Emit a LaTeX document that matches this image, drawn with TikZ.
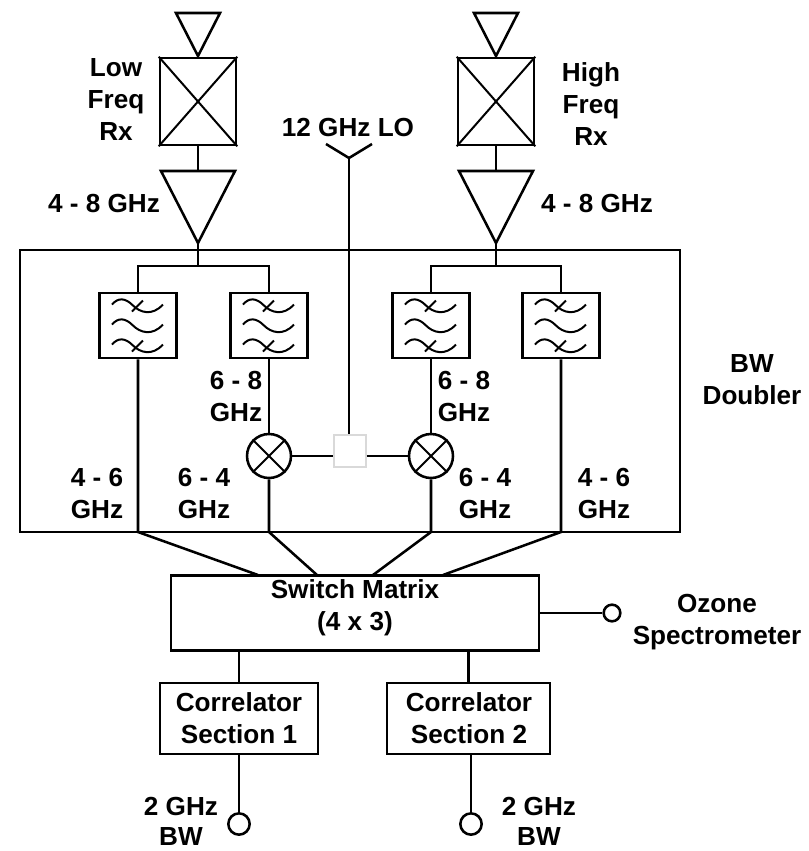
\documentclass[tikz,border=0pt]{standalone}
\usepackage{fontspec}
\setmainfont{Liberation Sans}
\usepackage{tikz}
\tikzstyle{texto}=[inner sep=0pt,align=center,font=\fontsize{19.6}{24}\selectfont\bfseries]
\tikzstyle{caja}=[draw,inner sep=0pt,fill=white]
\tikzstyle{feed}=[caja,minimum width=57pt,minimum height=65.25pt]
\tikzstyle{filtro}=[caja,minimum width=57.5pt,minimum height=48.75pt]
\tikzstyle{mezcla}=[caja,circle,minimum size=33pt]
\tikzstyle{puerto}=[caja,circle,minimum size=16pt]
\tikzstyle{fino}=[line width=1.5pt]

\begin{document}
\begin{tikzpicture}[x=0.75pt,y=-0.75pt,line width=1.9pt]
    \useasboundingbox (0,0) rectangle (809,851);
    % outer box of the doubler
    \node [draw,inner sep=0pt,minimum width=495pt,minimum height=211.5pt] (doubler) at (350,391) {};
    % receivers
    \node [feed] (lowrx) at (198,101.5) {};
    \node [feed] (highrx) at (496,101.5) {};
    \draw [fino] (lowrx.north west) -- (lowrx.south east) (lowrx.north east) -- (lowrx.south west);
    \draw [fino] (highrx.north west) -- (highrx.south east) (highrx.north east) -- (highrx.south west);
    \coordinate (lowant) at (198,56);
    \coordinate (highant) at (496,56);
    \draw (176,13) -- (220,13) -- (lowant) -- cycle;
    \draw (474,13) -- (518,13) -- (highant) -- cycle;
    \coordinate (lowamp) at (198,171);
    \coordinate (highamp) at (496,171);
    \coordinate (lowtip) at (198,243);
    \coordinate (hightip) at (496,243);
    \draw (161,171) -- (235,171) -- (lowtip) -- cycle;
    \draw (459,171) -- (533,171) -- (hightip) -- cycle;
    \draw (lowrx.south) -- (lowamp);
    \draw (highrx.south) -- (highamp);
    % filters
    \node [filtro] (fa) at (138,325.5) {};
    \node [filtro] (fb) at (269,325.5) {};
    \node [filtro] (fc) at (431,325.5) {};
    \node [filtro] (fd) at (561,325.5) {};
    \foreach \f in {fa,fb,fc,fd} {
        \foreach \dy in {-21,-1,19}
            \draw [fino,shift={(\f)}] (-26,\dy) .. controls (-20,\dy-7) and (-13,\dy-7) .. (-5,\dy+1) .. controls (2,\dy+8) and (14,\dy+12) .. (25,\dy);
        \foreach \dy in {-21,19}
            \draw [fino,shift={(\f)}] (-6,\dy+7) -- (5,\dy-4);
    }
    \coordinate (lowsplit) at (198,266);
    \coordinate (highsplit) at (496,266);
    \draw (lowtip) -- (lowsplit);
    \draw (hightip) -- (highsplit);
    \draw (fa.north) |- (lowsplit) -| (fb.north);
    \draw (fc.north) |- (highsplit) -| (fd.north);
    % mixers and LO
    \node [mezcla] (mixa) at (269,456) {};
    \node [mezcla] (mixb) at (431,456) {};
    \draw [fino] (mixa.north west) -- (mixa.south east) (mixa.north east) -- (mixa.south west);
    \draw [fino] (mixb.north west) -- (mixb.south east) (mixb.north east) -- (mixb.south west);
    \node [draw=black!15,fill=white,line width=0.8pt,inner sep=0pt,minimum size=24pt] (split) at (350,451) {};
    \coordinate (lofeed) at (349,158);
    \coordinate (loin) at (349,434);
    \draw (326,144) -- (lofeed) -- (372,144);
    \draw (lofeed) -- (loin);
    \draw (mixa.east) -- (split.west |- mixa);
    \draw (split.east |- mixb) -- (mixb.west);
    \draw (fb.south) -- (mixa.north);
    \draw (fc.south) -- (mixb.north);
    % switch matrix
    \node [caja,minimum width=276pt,minimum height=56.5pt] (switch) at (355,613) {};
    \coordinate (ea) at (138,532);
    \coordinate (eb) at (269,532);
    \coordinate (ec) at (431,532);
    \coordinate (ed) at (561,532);
    \draw (fa.south) -- (ea) -- (258,575);
    \draw (mixa.south) -- (eb) -- (317,575);
    \draw (mixb.south) -- (ec) -- (373,575);
    \draw (fd.south) -- (ed) -- (443,575);
    \node [puerto,minimum size=12.5pt] (ozone) at (612,613) {};
    \draw (switch.east |- ozone) -- (ozone);
    % correlators
    \node [caja,minimum width=118.5pt,minimum height=53pt] (corra) at (239,718.5) {};
    \node [caja,minimum width=122pt,minimum height=53pt] (corrb) at (468.5,718.5) {};
    \draw (switch.south -| corra) -- (corra.north);
    \draw (switch.south -| corrb) -- (corrb.north);
    \node [puerto] (outa) at (239,824) {};
    \node [puerto] (outb) at (471,824) {};
    \draw (corra.south -| outa) -- (outa);
    \draw (corrb.south -| outb) -- (outb);
    % labels
    \node [texto] (tlow) at (116,100) {Low\\Freq\\Rx};
    \node [texto] (thigh) at (591,104) {High\\Freq\\Rx};
    \node [texto] (tlo) at (348,127) {12 GHz LO};
    \node [texto] (tifa) at (104,203) {4 - 8 GHz};
    \node [texto] (tifb) at (597,203) {4 - 8 GHz};
    \node [texto] (tbw) at (752,380) {BW\\Doubler};
    \node [texto] (tsa) at (236,396) {6 - 8\\GHz};
    \node [texto] (tsb) at (464,396) {6 - 8\\GHz};
    \node [texto] (tba) at (97,493) {4 - 6\\GHz};
    \node [texto] (tbb) at (204,493) {6 - 4\\GHz};
    \node [texto] (tbc) at (485,493) {6 - 4\\GHz};
    \node [texto] (tbd) at (604,493) {4 - 6\\GHz};
    \node [texto] (tsw) at (355,608) {Switch Matrix\\(4 x 3)};
    \node [texto] (toz) at (717,622) {Ozone\\Spectrometer};
    \node [texto] (tca) at (239,718) {Correlator\\Section 1};
    \node [texto] (tcb) at (469,718) {Correlator\\Section 2};
    \node [texto] (tga) at (181,821.5) {2 GHz\\[-1.5pt]BW};
    \node [texto] (tgb) at (539,821.5) {2 GHz\\[-1.5pt]BW};
\end{tikzpicture}
\end{document}
